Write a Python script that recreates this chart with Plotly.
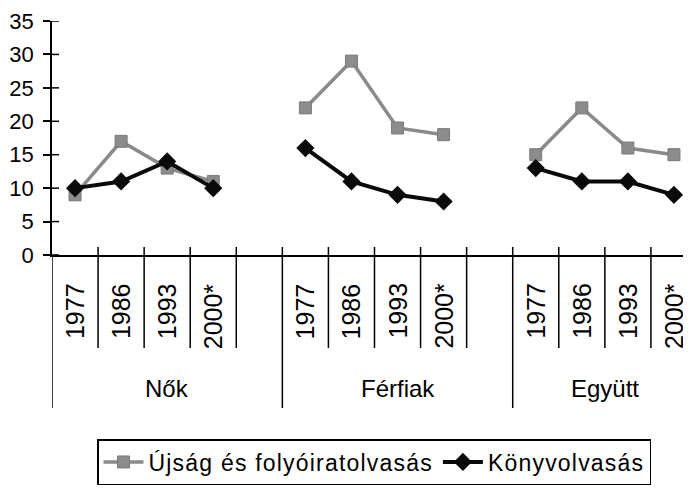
import plotly.graph_objects as go

groups = ["Nők", "Férfiak", "Együtt"]
years = ["1977", "1986", "1993", "2000*"]
ujsag = [9, 17, 13, 11, 22, 29, 19, 18, 15, 22, 16, 15]
konyv = [10, 11, 14, 10, 16, 11, 9, 8, 13, 11, 11, 9]
y_ticks = [0, 5, 10, 15, 20, 25, 30, 35]
series_names = ["Újság és folyóiratolvasás", "Könyvolvasás"]

FONT = "Liberation Sans, Arial"

# positions: each group has 4 years + 1 empty slot
xs, yu, yk = [], [], []
for g in range(len(groups)):
    for i in range(len(years)):
        xs.append(g * 5 + i)
        yu.append(ujsag[g * 4 + i])
        yk.append(konyv[g * 4 + i])
    if g < len(groups) - 1:
        xs.append(g * 5 + 4)
        yu.append(None)
        yk.append(None)

def spaced(t):
    return '<span style="letter-spacing:1.2px">' + t + '</span>'

fig = go.Figure()
fig.add_trace(go.Scatter(
    x=xs, y=yu, mode="lines+markers", name=spaced(series_names[0]),
    line=dict(color="#8a8a8a", width=3.5),
    marker=dict(symbol="square", size=12, color="#8c8c8c",
                line=dict(color="#7a7a7a", width=1)),
    connectgaps=False))
fig.add_trace(go.Scatter(
    x=xs, y=yk, mode="lines+markers", name=spaced(series_names[1]),
    line=dict(color="#0a0a0a", width=4),
    marker=dict(symbol="diamond", size=14, color="#0a0a0a"),
    connectgaps=False))

PH = 234.0  # plot height px
PW = 639.0

def py(px):
    return px / PH

shapes = []
annotations = []
# x boundaries (cross ticks + separators)
for b in range(-1, 14):
    xb = b + 0.5
    is_group = (b + 1) % 5 == 0
    if b == -1:
        shapes.append(dict(type="line", xref="x", yref="paper", x0=xb, x1=xb,
                           y0=py(-153), y1=0, line=dict(color="black", width=1.5)))
        continue
    bottom = -153 if is_group else -93
    shapes.append(dict(type="line", xref="x", yref="paper", x0=xb, x1=xb,
                       y0=py(bottom), y1=py(8), line=dict(color="black", width=1.5)))

# y inside ticks
for t in y_ticks:
    shapes.append(dict(type="line", xref="paper", yref="y", x0=0, x1=7 / PW,
                       y0=t, y1=t, line=dict(color="black", width=1.5)))

# year labels
for g in range(len(groups)):
    for i, yr in enumerate(years):
        annotations.append(dict(
            x=g * 5 + i, y=py(-26), xref="x", yref="paper", text=yr,
            textangle=-90, showarrow=False, xanchor="center", yanchor="top",
            font=dict(family=FONT, size=25, color="black")))

group_x = [2, 7, 11.5]
for gx, gname in zip(group_x, groups):
    annotations.append(dict(
        x=gx, y=py(-133), xref="x", yref="paper", text=gname, showarrow=False,
        xanchor="center", yanchor="middle",
        font=dict(family=FONT, size=24, color="black")))

# page body has an 8px default margin: figure is sized/offset to compensate
fig.update_layout(
    width=683, height=481,
    margin=dict(l=44, r=0, t=13, b=234, pad=0, autoexpand=False),
    paper_bgcolor="white", plot_bgcolor="white",
    showlegend=True,
    legend=dict(orientation="h", x=(97 - 52) / PW, xanchor="left",
                y=py(-184), yanchor="top",
                bordercolor="black", borderwidth=1.5, bgcolor="white",
                font=dict(family=FONT, size=23, color="black"),
                itemwidth=40, tracegroupgap=0),
    xaxis=dict(range=[-0.5, 13.37], showgrid=False, zeroline=False,
               showticklabels=False, ticks="", showline=True,
               linecolor="black", linewidth=1.5, automargin=False),
    yaxis=dict(range=[0, 35], tickvals=y_ticks, showgrid=False, zeroline=False,
               ticks="outside", ticklen=7, tickwidth=1.5, tickcolor="black",
               showline=True, linecolor="black", linewidth=1.5,
               ticklabelstandoff=5, automargin=False,
               tickfont=dict(family=FONT, size=22, color="black")),
    shapes=shapes, annotations=annotations,
)

fig.write_html("out.html")
